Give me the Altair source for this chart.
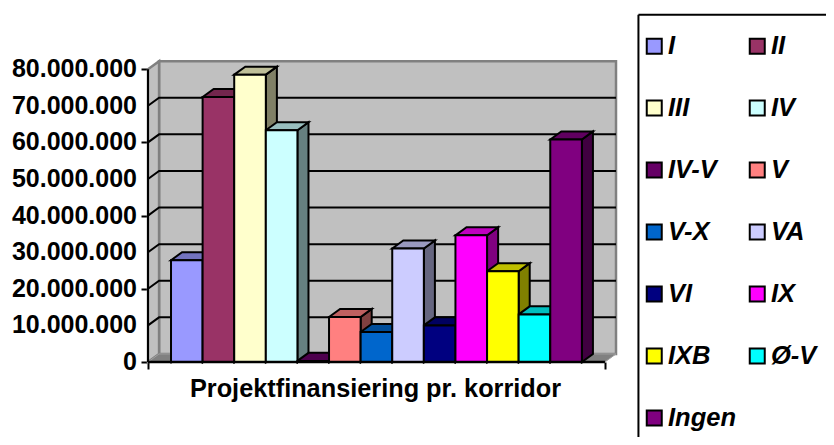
import altair as alt
import pandas as pd

categories = ["I", "II", "III", "IV", "IV-V", "V", "V-X", "VA", "VI", "IX", "IXB", "Ø-V", "Ingen"]
values = [27800000, 72400000, 78500000, 63300000, 300000, 12300000, 8200000, 31000000,
          10000000, 34600000, 24800000, 13000000, 60800000]
front_colors = ["#9999FF", "#993366", "#FFFFCC", "#CCFFFF", "#660066", "#FF8080", "#0066CC",
                "#CCCCFF", "#000080", "#FF00FF", "#FFFF00", "#00FFFF", "#800080"]
top_colors = ["#7373BF", "#73264D", "#BFBF99", "#99BFBF", "#4D004D", "#BF6060", "#004D99",
              "#9999BF", "#000060", "#BF00BF", "#BFBF00", "#00BFBF", "#600060"]
side_colors = ["#4D4D80", "#4D1A33", "#808066", "#668080", "#330033", "#804040", "#003366",
               "#666680", "#000040", "#800080", "#808000", "#008080", "#400040"]
tick_values = [0, 10000000, 20000000, 30000000, 40000000, 50000000, 60000000, 70000000, 80000000]
tick_labels = ["0", "10.000.000", "20.000.000", "30.000.000", "40.000.000", "50.000.000",
               "60.000.000", "70.000.000", "80.000.000"]

# 3-D box depth in data units, and the extents of the box
DX, DY = 0.35, 2200000
XL, XR = -0.728, 13.73
YMAX = 80000000
BAR = 1.0

xs = alt.Scale(domain=[XL, XR + DX], nice=False, zero=False)
ys = alt.Scale(domain=[0, 82510000], nice=False, zero=False)
BLACK = "#000000"
FONT = "Liberation Sans"


def X(axis=alt.Undefined):
    return alt.X("x:Q", scale=xs, axis=axis)


def Y(axis=alt.Undefined):
    return alt.Y("y:Q", scale=ys, axis=axis, stack=None)


Y2 = alt.Y2("y2:Q")

left_wall = pd.DataFrame({"x": [XL, XL + DX], "y": [YMAX, YMAX + DY], "y2": [0, DY]})
back_wall = pd.DataFrame({"x": [XL + DX, XR + DX], "y": [YMAX + DY] * 2, "y2": [DY] * 2})
floor = pd.DataFrame({"x": [XL, XL + DX, XR, XR + DX], "y": [0, DY, DY, DY], "y2": [0, 0, 0, DY]})

grid_rows = []
for v in tick_values[1:-1]:
    grid_rows += [{"x": XL, "y": v, "k": v}, {"x": XL + DX, "y": v + DY, "k": v},
                  {"x": XR + DX, "y": v + DY, "k": v}]
grid = pd.DataFrame(grid_rows)

side_rows, top_rows, front_rows = [], [], []
for i, (c, v) in enumerate(zip(categories, values)):
    x0, x1 = i, i + BAR
    side_rows += [{"cat": c, "x": x1, "y": v, "y2": 0, "shade": side_colors[i]},
                  {"cat": c, "x": x1 + DX, "y": v + DY, "y2": DY, "shade": side_colors[i]}]
    top_rows += [{"cat": c, "x": x0, "y": v, "y2": v, "shade": top_colors[i]},
                 {"cat": c, "x": x0 + DX, "y": v + DY, "y2": v, "shade": top_colors[i]},
                 {"cat": c, "x": x1, "y": v + DY, "y2": v, "shade": top_colors[i]},
                 {"cat": c, "x": x1 + DX, "y": v + DY, "y2": v + DY, "shade": top_colors[i]}]
    front_rows.append({"cat": c, "x": x0, "x2": x1, "y": v, "y2": 0})
sides, tops, fronts = map(pd.DataFrame, (side_rows, top_rows, front_rows))
labels_df = pd.DataFrame({"x": [XL] * len(tick_values), "y": tick_values, "label": tick_labels})

y_axis = alt.Axis(values=tick_values, domain=False, grid=False, tickColor=BLACK, tickWidth=2, tickSize=7,
                  labels=False, title=None)
x_axis = alt.Axis(values=[XL, XR], domain=False, grid=False, tickColor=BLACK, tickWidth=2, tickSize=7,
                  labels=False, title="Projektfinansiering pr. korridor", titleFont=FONT, titleFontWeight="bold",
                  titleFontSize=25.3, titleColor=BLACK, titleX=227, titleY=14)

wall_kw = dict(fill="#C0C0C0", stroke="#808080", strokeWidth=2.5, orient="vertical")

layers = [
    alt.Chart(back_wall).mark_area(**wall_kw).encode(X(x_axis), Y(y_axis), Y2),
    alt.Chart(left_wall).mark_area(**wall_kw).encode(X(), Y(), Y2),
    alt.Chart(floor).mark_area(fill="#808080", stroke="#A0A0A0", strokeWidth=1, orient="vertical").encode(X(), Y(), Y2),
    alt.Chart(grid).mark_line(color=BLACK, strokeWidth=2).encode(X(), Y(), detail="k:N", order="x:Q"),
    alt.Chart(sides).mark_area(stroke=BLACK, strokeWidth=2, orient="vertical").encode(
        X(), Y(), Y2, detail="cat:N", fill=alt.Fill("shade:N", scale=None, legend=None)),
    alt.Chart(tops).mark_area(stroke=BLACK, strokeWidth=2, orient="vertical").encode(
        X(), Y(), Y2, detail="cat:N", fill=alt.Fill("shade:N", scale=None, legend=None)),
    alt.Chart(fronts).mark_bar(stroke=BLACK, strokeWidth=2).encode(
        X(), alt.X2("x2:Q"), Y(), Y2,
        color=alt.Color("cat:N", scale=alt.Scale(domain=categories, range=front_colors), sort=categories,
                        legend=alt.Legend(
                            title=None, orient="none", legendX=493.5, legendY=-26.8, columns=2, direction="horizontal",
                            symbolType="square", symbolSize=225, symbolStrokeColor=BLACK, symbolStrokeWidth=2,
                            labelFont=FONT, labelFontWeight="bold", labelFontStyle="italic", labelFontSize=25.5,
                            labelColor=BLACK, labelOffset=1, labelLimit=200, rowPadding=35, columnPadding=8,
                            gridAlign="all"))),
    alt.Chart(pd.DataFrame({"x": [XL], "y": [0], "y2": [YMAX]})).mark_rule(color=BLACK, strokeWidth=2).encode(X(), Y(), Y2),
    alt.Chart(pd.DataFrame({"x": [XL], "x2": [XR], "y": [0]})).mark_rule(color=BLACK, strokeWidth=2.5).encode(X(), alt.X2("x2:Q"), Y()),
    alt.Chart(pd.DataFrame({"x": list(range(14)), "y": [0] * 14, "y2": [-500000] * 14})).mark_rule(color=BLACK, strokeWidth=1).encode(X(), Y(), Y2),
    alt.Chart(labels_df).mark_text(align="right", baseline="middle", dx=-11, font=FONT, fontWeight="bold",
                                   fontSize=25, color=BLACK).encode(X(), Y(), text="label:N"),
    # frame of the legend panel
    alt.Chart(pd.DataFrame({"x": [14.79], "y": [-23000000], "y2": [94860000]})).mark_rule(color=BLACK, strokeWidth=2).encode(X(), Y(), Y2),
    alt.Chart(pd.DataFrame({"x": [14.79], "x2": [27.5], "y": [94860000]})).mark_rule(color=BLACK, strokeWidth=2).encode(X(), alt.X2("x2:Q"), Y()),
]

chart = alt.layer(*layers).properties(
    width=468, height=302,
    padding={"left": 140, "top": 52, "right": 210, "bottom": 75},
    autosize=alt.AutoSizeParams(type="none"),
    background="white",
).configure_view(stroke=None)

chart.save("out.html", embed_options={"renderer": "svg", "actions": False})
